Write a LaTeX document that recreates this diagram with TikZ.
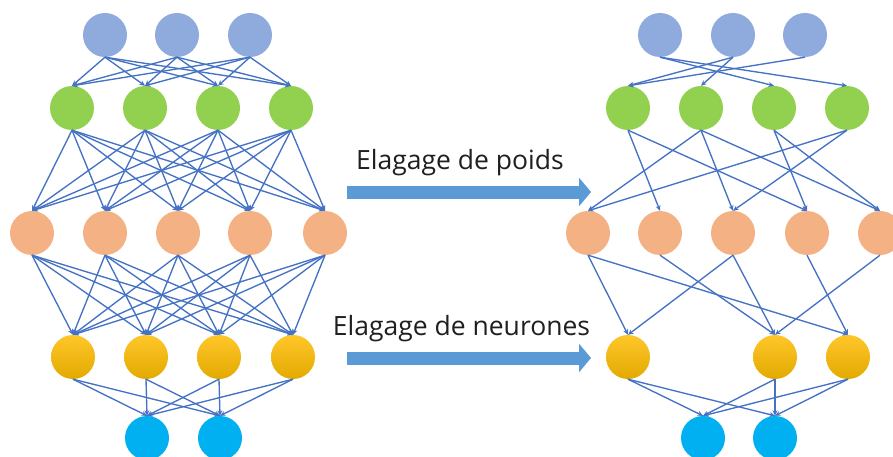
\documentclass[tikz,border=0pt]{standalone}
\usepackage{fontspec}
\setmainfont{Open Sans}
\usetikzlibrary{arrows.meta}
\definecolor{cblue}{HTML}{8FAADC}
\definecolor{cgreen}{HTML}{92D050}
\definecolor{corange}{HTML}{F4B183}
\definecolor{cyellowt}{HTML}{FFC62A}
\definecolor{cyellowb}{HTML}{E2AA00}
\definecolor{ccyan}{HTML}{00B0F0}
\definecolor{cedge}{HTML}{4472C4}
\definecolor{cbig}{HTML}{5B9BD5}
\tikzset{
  neuron/.style={circle,minimum size=44pt,inner sep=0pt,draw=none},
  nblue/.style={neuron,fill=cblue},
  ngreen/.style={neuron,fill=cgreen},
  norange/.style={neuron,fill=corange},
  nyellow/.style={neuron,top color=cyellowt,bottom color=cyellowb},
  ncyan/.style={neuron,fill=ccyan},
  edge/.style={draw=cedge,line width=1.35pt,-{Stealth[length=5.5pt,width=5pt]}},
  bigarrow/.style={draw=cbig,line width=13pt,-{Triangle[length=12pt,width=28pt]}},
  lbl/.style={font=\fontsize{26.5}{30}\selectfont,text=black!88,inner sep=0pt,anchor=base}
}
\begin{document}
\begin{tikzpicture}[x=1pt,y=-1pt]
\useasboundingbox (0,0) rectangle (893,457);
\begin{scope}
\clip (0,0) rectangle (893,457);
% ---------- left network ----------
\foreach \n/\x in {1/105,2/177,3/250} \node[nblue] (La\n) at (\x,35) {};
\foreach \n/\x in {1/72,2/145,3/218,4/291} \node[ngreen] (Lb\n) at (\x,108) {};
\foreach \n/\x in {1/32,2/105,3/178,4/250,5/325} \node[norange] (Lc\n) at (\x,233) {};
\foreach \n/\x in {1/73,2/146,3/219,4/293} \node[nyellow] (Ld\n) at (\x,357) {};
\foreach \n/\x in {1/147,2/220} \node[ncyan] (Le\n) at (\x,438) {};
\foreach \i in {1,2,3} \foreach \j in {1,2,3,4} \draw[edge] (La\i.south) -- (Lb\j.north);
\foreach \i in {1,2,3,4} \foreach \j in {1,2,3,4,5} \draw[edge] (Lb\i.south) -- (Lc\j.north);
\foreach \i in {1,2,3,4,5} \foreach \j in {1,2,3,4} \draw[edge] (Lc\i.south) -- (Ld\j.north);
\foreach \i in {1,2,3,4} \foreach \j in {1,2} \draw[edge] (Ld\i.south) -- (Le\j.north);
% ---------- right network ----------
\foreach \n/\x in {1/660,2/733,3/805} \node[nblue] (Ra\n) at (\x,35) {};
\foreach \n/\x in {1/628,2/701,3/774,4/847} \node[ngreen] (Rb\n) at (\x,108) {};
\foreach \n/\x in {1/588,2/660,3/733,4/807,5/880} \node[norange] (Rc\n) at (\x,233) {};
\foreach \n/\x in {1/628,3/775,4/848} \node[nyellow] (Rd\n) at (\x,357) {};
\foreach \n/\x in {1/703,2/775} \node[ncyan] (Re\n) at (\x,438) {};
\foreach \i/\j in {1/3,1/4,2/1,2/2,3/1} \draw[edge] (Ra\i.south) -- (Rb\j.north);
\foreach \i/\j in {1/2,1/4,2/1,2/3,2/5,3/4,3/5,4/1,4/3} \draw[edge] (Rb\i.south) -- (Rc\j.north);
\foreach \i/\j in {1/1,1/4,2/3,3/1,3/3,4/4,5/3} \draw[edge] (Rc\i.south) -- (Rd\j.north);
\foreach \i/\j in {1/1,1/2,3/1,3/2,4/1,4/2} \draw[edge] (Rd\i.south) -- (Re\j.north);
\end{scope}
% ---------- big arrows and labels ----------
\coordinate (A1s) at (347,192);
\coordinate (A1e) at (591,192);
\coordinate (A2s) at (347,358);
\coordinate (A2e) at (591,358);
\draw[bigarrow] (A1s) -- (A1e);
\draw[bigarrow] (A2s) -- (A2e);
\node[lbl] (T1) at (460,169) {Elagage de poids};
\node[lbl] (T2) at (461.5,335) {Elagage de neurones};
\end{tikzpicture}
\end{document}
